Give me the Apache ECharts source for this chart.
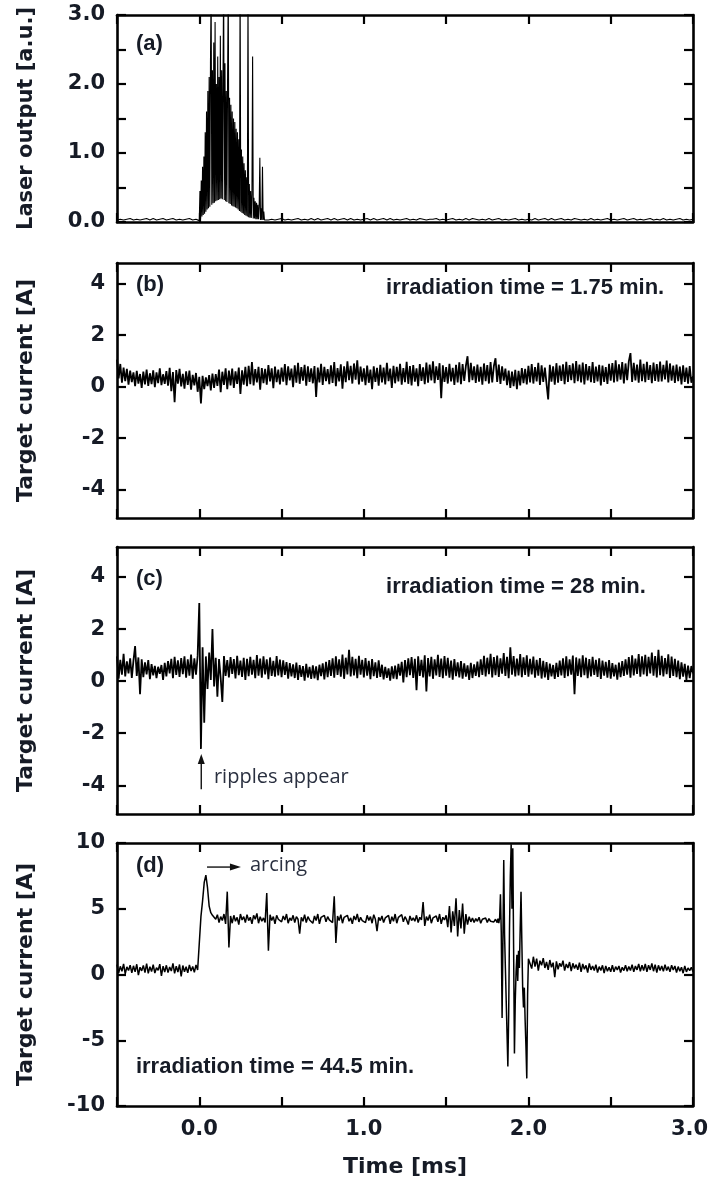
<!DOCTYPE html>
<html>
<head>
<meta charset="utf-8">
<script src="https://cdn.jsdelivr.net/npm/echarts@6/dist/echarts.min.js"></script>
<style>
  html, body { margin: 0; padding: 0; background: #fff; }
  #chart { width: 708px; height: 1180px; }
</style>
</head>
<body>
<div id="chart"></div>
<script>
// ---- axis ticks and labels ----
const timeTickStep = 0.5;                 // ms
const timeLabelValues = [0, 1, 2, 3];     // labelled time ticks (ms)
const laserTicks = [0, 0.5, 1, 1.5, 2, 2.5, 3];
const laserLabelValues = [0, 1, 2, 3];
const currentTicksSmall = [-4, -2, 0, 2, 4];
const currentTicksLarge = [-10, -5, 0, 5, 10];

// ---- (a) laser output [a.u.] ----
// before the pulse: t = -0.50 ... -0.02 ms, step 0.02
const laserPre = [0.03,0.04,0.03,0.04,0.05,0.03,0.04,0.03,0.04,0.05,0.03,0.05,0.03,0.04,0.05,0.03,0.04,0.05,0.03,0.04,0.03,0.04,0.05,0.03,0.04];
// pulse: t = 0.000 ... 0.400 ms, step 0.004
const laserBurst = [
  0.02,0.45,0.05,0.60,0.08,0.80,0.10,0.95,0.12,1.30,
  0.15,1.60,0.18,1.90,0.20,2.10,0.22,2.30,3.40,0.25,
  2.20,0.27,2.60,0.28,2.90,0.30,2.00,0.31,2.40,0.32,
  2.10,0.33,2.70,0.34,2.20,0.33,2.00,3.50,0.32,2.30,
  0.30,1.90,0.29,2.10,3.40,0.27,1.80,0.26,1.70,0.24,
  1.60,0.23,1.50,0.22,1.45,0.21,1.35,0.20,1.30,0.18,
  1.20,0.16,3.50,0.15,1.05,0.13,0.95,0.12,0.85,0.10,
  0.75,0.09,0.65,0.08,3.30,0.07,0.55,0.06,0.45,0.06,
  0.40,2.40,0.05,0.35,0.05,0.30,0.04,0.28,0.04,0.25,
  0.04,0.22,0.93,0.03,0.20,0.03,0.80,0.03,0.15,0.03,
  0.04
];
// after the pulse: t = 0.42 ... 3.00 ms, step 0.02
const laserPost = [
  0.03,0.04,0.03,0.04,0.05,0.03,0.04,0.03,0.04,0.05,
  0.03,0.04,0.03,0.05,0.03,0.05,0.03,0.04,0.05,0.03,
  0.05,0.03,0.04,0.05,0.03,0.05,0.03,0.04,0.03,0.04,
  0.05,0.03,0.05,0.03,0.04,0.05,0.03,0.05,0.03,0.04,
  0.03,0.04,0.05,0.03,0.04,0.03,0.05,0.04,0.03,0.04,
  0.04,0.05,0.03,0.04,0.03,0.04,0.05,0.03,0.04,0.03,
  0.05,0.03,0.05,0.04,0.03,0.04,0.03,0.05,0.03,0.04,
  0.05,0.03,0.04,0.03,0.04,0.05,0.03,0.04,0.03,0.04,
  0.03,0.05,0.03,0.04,0.05,0.03,0.05,0.03,0.04,0.05,
  0.03,0.04,0.03,0.05,0.04,0.03,0.04,0.03,0.05,0.03,
  0.04,0.03,0.04,0.05,0.03,0.04,0.03,0.04,0.05,0.03,
  0.04,0.05,0.03,0.04,0.03,0.04,0.05,0.03,0.04,0.03,
  0.05,0.03,0.04,0.03,0.04,0.05,0.03,0.04,0.03,0.04
];

// ---- (b) target current [A], irradiation 1.75 min: t = -0.50 ... 3.00 ms, step 0.01 ----
const currentB = [
  1.05,0.32,0.88,0.15,0.74,0.21,0.69,0.08,0.62,0.18,
  0.55,0.02,0.61,0.12,0.49,-0.05,0.58,0.09,0.66,0.03,
  0.52,0.10,0.63,-0.02,0.55,0.14,0.71,0.06,0.48,0.11,
  0.60,0.04,0.73,-0.18,0.57,-0.60,0.64,0.12,0.69,0.01,
  0.50,-0.08,0.59,0.07,0.62,-0.12,0.46,0.05,0.53,-0.20,
  0.38,-0.65,0.42,-0.10,0.36,0.02,0.45,-0.15,0.51,-0.05,
  0.49,0.03,0.66,-0.22,0.58,0.07,0.71,-0.10,0.62,0.05,
  0.70,-0.05,0.59,0.11,0.74,-0.28,0.63,0.08,0.77,0.02,
  0.81,0.10,0.95,0.05,0.68,0.16,0.77,-0.12,0.72,0.14,
  0.69,0.08,0.84,0.20,0.71,-0.06,0.78,0.17,0.66,0.09,
  0.74,0.19,0.88,0.06,0.79,0.24,0.70,-0.02,0.83,0.15,
  0.92,0.11,0.76,0.23,0.85,0.04,0.79,0.18,0.71,0.13,
  0.80,-0.40,0.74,0.16,0.89,0.07,0.77,0.21,0.68,0.10,
  0.83,0.14,0.95,0.02,0.72,0.20,0.87,-0.08,0.79,0.17,
  0.98,0.25,0.81,0.12,0.90,0.27,1.02,0.09,0.78,0.19,
  0.71,0.06,0.82,0.15,0.66,-0.10,0.79,0.18,0.73,0.04,
  0.85,0.16,0.74,0.09,0.92,0.21,0.70,-0.05,0.81,0.13,
  0.77,0.20,0.89,0.08,0.72,0.17,0.96,0.11,0.80,0.05,
  0.84,0.19,0.71,0.02,0.88,0.22,0.75,0.10,0.93,0.15,
  0.86,0.24,0.98,0.13,0.79,0.26,0.91,-0.45,0.83,0.18,
  0.76,0.12,0.89,0.20,0.73,0.07,0.85,0.16,0.94,0.10,
  0.88,0.22,0.81,1.18,0.17,0.92,0.25,0.79,0.14,0.86,
  0.19,0.77,0.08,0.90,0.21,0.84,0.12,0.95,0.16,0.80,
  1.10,0.18,0.86,0.11,0.79,0.23,0.70,0.06,0.62,-0.05,
  0.58,0.02,0.65,-0.10,0.61,0.05,0.72,0.14,0.69,0.09,
  0.81,0.16,0.88,0.12,0.76,0.20,0.92,0.07,0.83,0.18,
  0.74,0.11,-0.50,0.85,0.19,0.79,0.08,0.91,0.15,0.82,
  0.22,0.87,0.10,0.96,0.18,0.84,0.25,0.90,0.13,0.99,
  0.21,0.86,0.16,0.93,0.09,0.88,0.24,0.80,0.17,0.95,
  0.14,0.78,0.20,0.85,0.05,0.82,0.18,0.76,0.11,0.89,
  0.23,0.91,0.16,1.02,0.20,0.87,0.27,0.95,0.12,0.90,
  0.25,0.98,1.30,0.18,0.92,0.24,0.86,0.15,1.05,0.21,
  0.89,0.17,0.96,0.26,0.84,0.13,0.93,0.22,0.88,0.19,
  0.97,0.20,0.85,0.28,1.01,0.16,0.90,0.23,0.82,0.14,
  0.86,0.21,0.78,0.09,0.83,0.18,0.74,0.12,0.80,0.15,
  0.40
];

// ---- (c) target current [A], irradiation 28 min: t = -0.50 ... 3.00 ms, step 0.01 ----
const currentC = [
  0.95,0.10,0.82,0.25,1.05,0.18,0.76,0.30,0.88,0.12,
  0.79,1.35,0.20,0.91,-0.50,0.84,0.15,0.72,0.26,0.81,
  0.08,0.65,0.22,0.59,0.12,0.55,0.28,0.62,0.05,0.70,
  0.18,0.77,0.30,0.86,0.11,0.93,0.24,0.80,0.16,0.89,
  0.27,0.95,0.13,0.84,0.21,1.02,0.09,0.88,0.25,0.97,
  3.00,-2.60,1.30,-1.60,0.95,-0.30,1.10,0.05,2.00,-0.20,
  0.90,-0.60,0.85,0.12,-0.80,0.96,0.20,0.81,0.14,0.92,
  0.28,0.85,0.10,0.97,0.23,0.79,0.16,0.90,0.05,0.86,
  0.19,0.93,0.25,0.82,0.11,1.00,0.21,0.87,0.13,0.95,
  0.26,0.84,0.08,0.91,0.20,0.78,0.17,0.96,0.22,0.83,
  0.15,0.80,0.24,0.73,0.10,0.69,0.18,0.64,0.12,0.71,
  0.05,0.62,0.16,0.58,0.02,0.66,0.14,0.55,0.09,0.61,
  0.11,0.57,0.04,0.63,0.19,0.68,0.07,0.74,0.15,0.81,
  0.20,0.88,0.13,0.95,0.24,0.84,0.17,1.02,0.09,0.90,
  0.26,1.20,0.18,0.93,0.22,0.86,0.11,0.97,0.25,0.82,
  0.14,0.89,0.21,0.78,0.08,0.85,0.19,0.72,0.12,0.80,
  0.16,0.63,0.07,0.55,0.13,0.49,0.02,0.57,0.10,0.60,
  0.08,0.66,0.21,0.74,-0.05,0.81,0.15,0.88,0.23,0.92,
  0.12,0.86,-0.35,0.95,0.20,0.82,0.14,0.99,-0.40,0.89,
  0.18,0.93,0.09,0.84,0.22,1.01,0.16,0.87,0.11,0.96,
  0.21,0.90,0.13,0.79,0.06,0.85,0.19,0.72,0.14,0.77,
  0.10,0.68,0.17,0.61,0.05,0.70,0.12,0.64,0.20,0.75,
  0.15,0.84,0.24,0.97,0.18,0.90,0.27,1.05,0.14,0.92,
  0.23,0.98,0.16,0.88,0.29,1.08,0.20,0.93,0.11,1.30,
  0.25,0.96,0.18,0.87,0.22,1.04,0.15,0.91,0.24,0.99,
  0.17,0.86,0.26,0.94,0.13,0.82,0.21,0.89,0.10,0.78,
  0.14,0.73,0.05,0.67,0.18,0.62,0.09,0.70,0.16,0.79,
  0.22,0.88,0.12,0.95,0.19,0.84,0.25,0.98,-0.50,0.91,
  0.20,0.87,0.15,0.99,0.23,0.90,0.11,0.85,0.18,0.93,
  0.24,0.82,0.16,0.88,0.09,0.79,0.21,0.74,0.13,0.81,
  0.10,0.69,0.18,0.63,0.06,0.71,0.15,0.77,0.20,0.84,
  0.25,0.92,0.13,0.99,0.22,0.87,0.28,1.04,0.17,0.95,
  0.26,1.01,0.19,0.93,0.30,1.10,0.21,0.96,0.14,1.20,
  0.23,0.97,0.18,0.89,0.27,1.03,0.12,0.94,0.20,0.86,
  0.15,0.79,0.08,0.72,0.17,0.66,0.05,0.60,0.12,0.58,
  0.30
];

// ---- (d) target current [A], irradiation 44.5 min ----
// t = -0.50 ... 1.80 ms, step 0.01
const currentDPre = [
  0.75,0.10,0.62,0.25,0.80,0.05,0.58,0.30,0.71,0.12,
  0.66,0.20,0.78,-0.05,0.55,0.28,0.69,0.15,0.83,0.08,
  0.60,0.22,0.74,0.11,0.52,0.31,0.79,-0.10,0.64,0.18,
  0.70,0.14,0.57,0.26,0.85,0.09,0.63,0.19,0.76,-0.15,
  0.68,0.21,0.59,0.12,0.73,0.27,0.61,0.16,0.72,0.35,
  0.45,4.40,5.60,7.00,7.55,6.60,5.20,4.70,4.50,4.35,
  4.20,4.55,3.95,4.40,4.10,4.60,3.85,6.30,2.05,4.45,
  3.90,4.50,4.05,4.35,3.80,4.60,4.15,4.40,3.95,4.55,
  4.10,4.35,3.85,4.50,4.20,4.65,3.90,4.40,4.05,4.30,
  3.95,6.20,1.80,4.55,4.10,4.40,3.85,4.50,4.20,4.35,
  4.00,4.45,4.15,4.60,3.90,4.30,4.10,4.50,3.95,4.40,
  4.20,3.10,4.35,4.05,4.55,3.95,4.40,4.15,4.30,3.90,
  4.45,4.10,4.60,3.85,4.35,4.20,4.50,4.00,4.40,4.15,
  4.30,3.95,5.95,2.40,4.45,4.10,4.55,3.90,4.35,4.20,
  4.50,4.05,4.30,3.85,4.45,4.15,4.60,4.00,4.35,4.10,
  4.25,3.95,4.50,4.10,4.40,3.90,4.55,4.20,3.30,4.35,
  4.10,4.45,3.95,4.30,4.15,4.50,3.85,4.40,4.05,4.60,
  3.90,4.35,4.20,4.55,4.00,4.40,4.15,3.80,4.45,4.10,
  4.30,4.05,4.50,3.95,4.35,4.15,5.50,3.70,4.40,4.10,
  4.55,3.90,4.30,4.20,4.45,4.00,4.60,3.85,4.35,4.15,
  4.50,3.60,5.20,3.20,4.80,3.70,5.80,2.90,4.90,3.50,
  5.40,3.10,4.60,3.80,4.40,4.00,4.30,3.95,4.25,4.05,
  4.35,3.90,4.20,4.10,4.30,3.95,4.25,4.05,4.15,4.00,
  4.20
];
// arc oscillation: t = 1.805 ... 2.000 ms, step 0.005
const currentDArc = [
  4.15,3.95,4.25,3.90,4.30,6.10,3.20,-3.30,2.50,8.70,
  3.00,0.50,-2.00,-4.50,-7.00,-3.00,3.50,7.50,9.90,5.00,
  9.60,2.00,-6.00,-2.00,0.20,1.50,-0.50,1.80,0.50,3.50,
  6.30,2.50,-1.00,-2.50,-1.00,-3.50,-5.50,-7.90,-1.50,1.20
];
// after the arc: t = 2.01 ... 3.00 ms, step 0.01
const currentDPost = [
  1.10,0.45,1.35,0.60,1.20,0.30,1.05,0.70,1.25,0.50,
  0.95,0.35,1.10,0.55,0.90,-0.20,1.00,0.40,0.85,0.60,
  1.05,0.30,0.80,0.50,0.95,0.25,0.85,0.45,0.75,0.35,
  0.90,0.20,0.80,0.40,0.70,0.15,0.85,0.35,0.65,0.30,
  0.75,0.15,0.60,0.30,0.70,0.10,0.65,0.25,0.55,0.20,
  0.70,0.20,0.60,0.35,0.65,0.15,0.55,0.30,0.70,0.25,
  0.60,0.30,0.75,0.20,0.65,0.35,0.80,0.25,0.70,0.30,
  0.80,0.20,0.70,0.35,0.85,0.25,0.75,0.15,0.70,0.30,
  0.65,0.25,0.75,0.30,0.60,0.20,0.70,0.35,0.65,0.15,
  0.60,0.25,0.55,0.10,0.65,0.20,0.50,0.30,0.55,0.20
];

// pair a run of evenly sampled values with their times
function samples(start, step, values) {
  return values.map((v, i) => [Math.round((start + i * step) * 100000) / 100000, v]);
}

const traceA = [].concat(samples(-0.5, 0.02, laserPre), samples(0, 0.004, laserBurst), samples(0.42, 0.02, laserPost));
const traceB = samples(-0.5, 0.01, currentB);
const traceC = samples(-0.5, 0.01, currentC);
const traceD = [].concat(samples(-0.5, 0.01, currentDPre), samples(1.805, 0.005, currentDArc), samples(2.01, 0.01, currentDPost));

// ---- layout / style ----
const axisFont = 'DejaVu Sans';
const noteFont = 'Liberation Sans';
const textColor = '#161b26';
const frame = { color: '#000', width: 2.6 };
const tickText = { fontFamily: axisFont, fontWeight: 'bold', fontSize: 21, color: textColor };

const panels = [
  { top: 15,  height: 207, min: 0,    max: 3,    ticks: laserTicks,        labels: laserLabelValues,  fmt: v => v.toFixed(1), name: 'Laser output [a.u.]', nameSize: 21, data: traceA, width: 1.1 },
  { top: 263, height: 255, min: -5.1, max: 4.8,  ticks: currentTicksSmall, labels: currentTicksSmall, fmt: v => String(v),   name: 'Target current [A]',  nameSize: 22, data: traceB, width: 1.8 },
  { top: 547, height: 267, min: -5.1, max: 5.15, ticks: currentTicksSmall, labels: currentTicksSmall, fmt: v => String(v),   name: 'Target current [A]',  nameSize: 22, data: traceC, width: 1.8 },
  { top: 843, height: 263, min: -10,  max: 10,   ticks: currentTicksLarge, labels: currentTicksLarge, fmt: v => String(v),   name: 'Target current [A]',  nameSize: 22, data: traceD, width: 1.5 }
];

const grids = [], xAxes = [], yAxes = [], series = [];
panels.forEach((p, k) => {
  const last = k === panels.length - 1;
  grids.push({ left: 117, right: 15, top: p.top, height: p.height, containLabel: false, outerBoundsMode: 'none' });
  ['bottom', 'top'].forEach(pos => {
    const labelled = last && pos === 'bottom';
    xAxes.push({
      type: 'value', gridIndex: k, position: pos, min: -0.5, max: 3, interval: timeTickStep,
      axisLine: { onZero: false, lineStyle: frame },
      axisTick: { inside: true, length: 9, lineStyle: { color: '#000', width: 2.2 } },
      axisLabel: labelled ? Object.assign({
        customValues: timeLabelValues, margin: 13,
        // the last label is nudged left so it stays inside the page
        formatter: v => (v === 3 ? '{edge|' + v.toFixed(1) + '}' : v.toFixed(1)),
        rich: { edge: Object.assign({ padding: [0, 7, 0, 0] }, tickText) }
      }, tickText) : { show: false },
      splitLine: { show: false },
      name: labelled ? 'Time [ms]' : '', nameLocation: 'middle', nameGap: 50,
      nameTextStyle: { fontFamily: axisFont, fontWeight: 'bold', fontSize: 22, color: textColor }
    });
  });
  ['left', 'right'].forEach(pos => {
    const labelled = pos === 'left';
    yAxes.push({
      type: 'value', gridIndex: k, position: pos, min: p.min, max: p.max,
      axisLine: { onZero: false, lineStyle: frame },
      axisTick: { inside: true, length: 9, customValues: p.ticks, lineStyle: { color: '#000', width: 2.2 } },
      axisLabel: labelled ? Object.assign({ customValues: p.labels, formatter: p.fmt, margin: 12 }, tickText) : { show: false },
      splitLine: { show: false },
      name: labelled ? p.name : '', nameLocation: 'middle', nameGap: 80,
      nameTextStyle: { fontFamily: axisFont, fontWeight: 'bold', fontSize: p.nameSize, color: textColor }
    });
  });
  series.push({
    type: 'line', xAxisIndex: 2 * k, yAxisIndex: 2 * k, data: p.data,
    showSymbol: false, symbol: 'none', clip: true, silent: true,
    lineStyle: { color: '#000', width: p.width }
  });
});

const chart = echarts.init(document.getElementById('chart'), null, { renderer: 'canvas' });
chart.setOption({
  animation: false,
  backgroundColor: '#fff',
  grid: grids, xAxis: xAxes, yAxis: yAxes, series: series
});

// ---- annotations, placed in data units of each panel ----
const toPx = (k, t, v) => chart.convertToPixel({ seriesIndex: k }, [t, v]);
const boldNote = (k, t, v, text, align) => {
  const [x, y] = toPx(k, t, v);
  return { type: 'text', x, y, z: 10, style: {
    text, align: align || 'left', verticalAlign: 'middle',
    fontFamily: noteFont, fontWeight: 'bold', fontSize: 22, fill: textColor } };
};
const plainNote = (k, t, v, text) => {
  const [x, y] = toPx(k, t, v);
  return { type: 'text', x, y, z: 10, style: {
    text, align: 'left', verticalAlign: 'middle',
    fontFamily: 'Open Sans', fontSize: 20, fill: '#2a3040' } };
};

const graphics = [
  boldNote(0, -0.385, 2.58, '(a)'),
  boldNote(1, -0.385, 3.95, '(b)'),
  boldNote(1, 1.135, 3.83, 'irradiation time = 1.75 min.'),
  boldNote(2, -0.385, 3.92, '(c)'),
  boldNote(2, 1.135, 3.62, 'irradiation time = 28 min.'),
  plainNote(2, 0.089, -3.71, 'ripples appear'),
  boldNote(3, -0.385, 8.25, '(d)'),
  plainNote(3, 0.308, 8.33, 'arcing'),
  boldNote(3, -0.385, -7.03, 'irradiation time = 44.5 min.')
];

// upward arrow marking where the ripples start
(function () {
  const [x, yTail] = toPx(2, 0.012, -4.15);
  const [, yTip] = toPx(2, 0.012, -2.8);
  graphics.push({ type: 'line', z: 10, shape: { x1: x, y1: yTail, x2: x, y2: yTip + 8 }, style: { stroke: '#111', lineWidth: 1.4 } });
  graphics.push({ type: 'polygon', z: 10, shape: { points: [[x, yTip], [x - 3.5, yTip + 10], [x + 3.5, yTip + 10]] }, style: { fill: '#111' } });
})();
// rightward arrow pointing to the arcing label
(function () {
  const [x1, y] = toPx(3, 0.047, 8.17);
  const [x2] = toPx(3, 0.253, 8.17);
  graphics.push({ type: 'line', z: 10, shape: { x1: x1, y1: y, x2: x2 - 8, y2: y }, style: { stroke: '#111', lineWidth: 1.4 } });
  graphics.push({ type: 'polygon', z: 10, shape: { points: [[x2, y], [x2 - 11, y - 3.5], [x2 - 11, y + 3.5]] }, style: { fill: '#111' } });
})();

chart.setOption({ graphic: graphics });
</script>
</body>
</html>
